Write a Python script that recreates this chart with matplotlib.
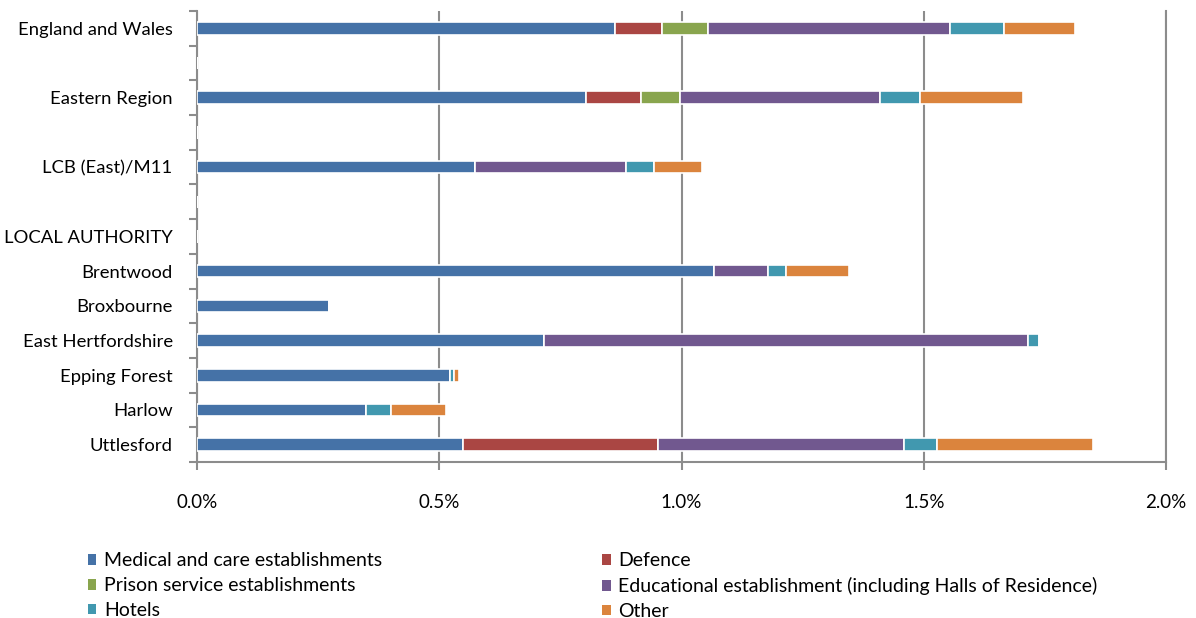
import numpy as np
import matplotlib
matplotlib.use("Agg")
import matplotlib.pyplot as plt
from matplotlib.ticker import FixedLocator, PercentFormatter
from matplotlib.patches import Patch

plt.rcParams["font.family"] = ["Lato", "DejaVu Sans"]

# one slot per row, "" means an empty spacer row
rows = ["England and Wales", "", "Eastern Region", "", "LCB (East)/M11", "",
        "LOCAL AUTHORITY", "Brentwood", "Broxbourne", "East Hertfordshire",
        "Epping Forest", "Harlow", "Uttlesford"]

series = ["Medical and care establishments", "Defence", "Prison service establishments",
          "Educational establishment (including Halls of Residence)", "Hotels", "Other"]
colors = ["#4572A7", "#AA4643", "#89A54E", "#71588F", "#4198AF", "#DB843D"]

# values in percent, per row (spacer / heading rows are zero)
medical     = [0.862, 0, 0.803, 0, 0.574, 0, 0, 1.068, 0.273, 0.716, 0.523, 0.348, 0.550]
defence     = [0.097, 0, 0.113, 0, 0.000, 0, 0, 0.000, 0.000, 0.000, 0.000, 0.000, 0.402]
prison      = [0.095, 0, 0.080, 0, 0.000, 0, 0, 0.000, 0.000, 0.000, 0.000, 0.000, 0.000]
educational = [0.500, 0, 0.414, 0, 0.312, 0, 0, 0.110, 0.000, 0.999, 0.000, 0.000, 0.508]
hotels      = [0.111, 0, 0.083, 0, 0.057, 0, 0, 0.037, 0.000, 0.023, 0.007, 0.052, 0.068]
other       = [0.147, 0, 0.211, 0, 0.099, 0, 0, 0.131, 0.000, 0.000, 0.010, 0.114, 0.321]

values = [medical, defence, prison, educational, hotels, other]

fig = plt.figure(figsize=(11.96, 6.18), dpi=100)
ax = fig.add_axes([197 / 1196, 1 - 462 / 618, (1166 - 197) / 1196, (462 - 11) / 618])

y = np.arange(len(rows))
left = np.zeros(len(rows))
for name, vals, col in zip(series, values, colors):
    vals = np.array(vals)
    ax.barh(y, vals, left=left, height=0.36, color=col, edgecolor="white",
            linewidth=1.2, label=name, zorder=3)
    left += vals

ax.set_xlim(0, 2.0)
ax.set_ylim(len(rows) - 0.5, -0.5)
ax.xaxis.set_major_locator(FixedLocator([0, 0.5, 1.0, 1.5, 2.0]))
ax.xaxis.set_major_formatter(PercentFormatter(decimals=1))
ax.grid(axis="x", color="#8c8c8c", linewidth=1.5, zorder=0)

ax.set_yticks(y)
ax.set_yticklabels(rows)
ax.set_yticks(np.arange(len(rows) + 1) - 0.5, minor=True)
ax.tick_params(axis="y", which="major", length=0, pad=17.5, labelsize=13.3)
ax.tick_params(axis="y", which="minor", length=6, width=1.5, color="#8c8c8c")
ax.tick_params(axis="x", length=6, width=1.5, color="#8c8c8c", pad=17, labelsize=13.5)

ax.spines["top"].set_visible(False)
for side in ["left", "bottom", "right"]:
    ax.spines[side].set_color("#8c8c8c")
    ax.spines[side].set_linewidth(1.5)

order = [0, 2, 4, 1, 3, 5]
handles = [Patch(facecolor=colors[i], label=series[i]) for i in order]
fig.legend(handles=handles, ncol=2, loc="upper left", bbox_to_anchor=(70 / 1196, 1 - 535 / 618),
           frameon=False, fontsize=14, handlelength=0.45, handleheight=0.45,
           handletextpad=0.4, columnspacing=11.3, labelspacing=0.4)

fig.savefig("out.png", dpi=100)
